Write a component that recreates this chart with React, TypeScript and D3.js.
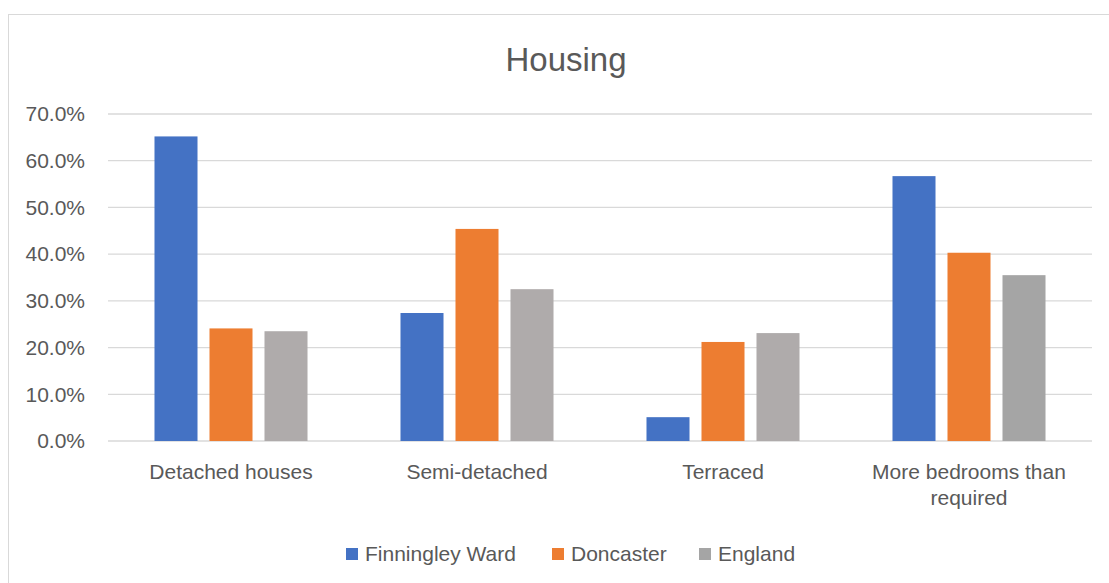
import React from 'react';
import * as d3 from 'd3';

const categories = ['Detached houses', 'Semi-detached', 'Terraced', 'More bedrooms than required'];
const categoryLines = [['Detached houses'], ['Semi-detached'], ['Terraced'], ['More bedrooms than', 'required']];
const seriesNames = ['Finningley Ward', 'Doncaster', 'England'];
const finningley = [0.652, 0.274, 0.051, 0.567];
const doncaster = [0.241, 0.454, 0.212, 0.403];
const england = [0.235, 0.325, 0.231, 0.355];
const yTicks = [0, 0.1, 0.2, 0.3, 0.4, 0.5, 0.6, 0.7];

// series colours, England has some points recoloured in the original
const colors = ['#4472c4', '#ed7d31', '#a5a5a5'];
const englandPointFill = ['#afabab', '#afabab', '#afabab', '#a5a5a5'];

const W = 1109;
const H = 583;
const plot = { left: 108, right: 1092, top: 114, bottom: 441 };
const textColor = '#595959';
const font = '"Liberation Sans", Arial, sans-serif';

export default function App() {
  const values = [finningley, doncaster, england];

  const x0 = d3.scaleBand().domain(categories).range([plot.left, plot.right]).padding(0);
  const groupW = x0.bandwidth() * 0.622;
  const x1 = d3
    .scaleBand()
    .domain(seriesNames)
    .range([-groupW / 2, groupW / 2])
    .paddingInner(0.218);
  const y = d3.scaleLinear().domain([0, 0.7]).range([plot.bottom, plot.top]);
  const fmt = d3.format('.1%');

  const fillFor = (si: number, ci: number) => (si === 2 ? englandPointFill[ci] : colors[si]);
  const legendX = [346, 552, 699];

  return (
    <svg
      width={W}
      height={H}
      style={{ position: 'absolute', left: 0, top: 0, display: 'block', fontFamily: font }}
    >
      <rect x={0} y={0} width={W} height={H} fill="#fff" />
      <rect x={8.5} y={14.5} width={W + 20} height={H + 20} fill="#fff" stroke="#d9d9d9" strokeWidth={1} />

      <text x={566} y={71} textAnchor="middle" fontSize={33} fill={textColor}>
        Housing
      </text>

      {yTicks.map(t => (
        <g key={t}>
          <line x1={plot.left} x2={plot.right} y1={y(t)} y2={y(t)} stroke="#d9d9d9" strokeWidth={1.3} />
          <text x={85} y={y(t)} dy="0.35em" textAnchor="end" fontSize={21} fill={textColor}>
            {fmt(t)}
          </text>
        </g>
      ))}

      {categories.map((c, ci) => (
        <g key={c} transform={`translate(${(x0(c) ?? 0) + x0.bandwidth() / 2},0)`}>
          {seriesNames.map((s, si) => {
            const v = values[si][ci];
            return (
              <rect
                key={s}
                x={x1(s)}
                y={y(v)}
                width={x1.bandwidth()}
                height={y(0) - y(v)}
                fill={fillFor(si, ci)}
              />
            );
          })}
          {categoryLines[ci].map((line, li) => (
            <text key={li} x={0} y={479 + li * 26} textAnchor="middle" fontSize={21} fill={textColor}>
              {line}
            </text>
          ))}
        </g>
      ))}

      {seriesNames.map((s, si) => (
        <g key={s} transform={`translate(${legendX[si]},548)`}>
          <rect x={0} y={0} width={12} height={12} fill={colors[si]} />
          <text x={19} y={13} fontSize={21} fill={textColor}>
            {s}
          </text>
        </g>
      ))}
    </svg>
  );
}
